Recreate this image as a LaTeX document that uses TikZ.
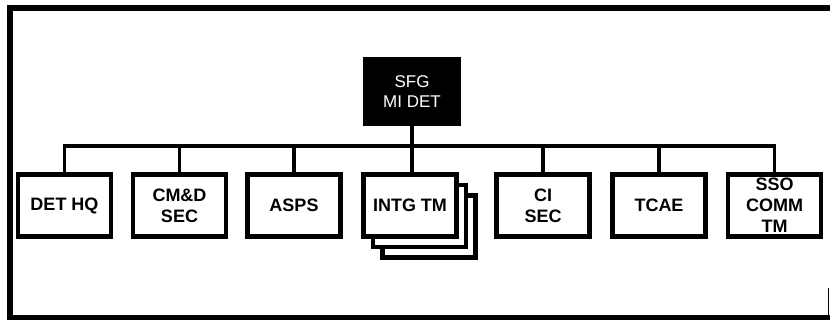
\documentclass[tikz,border=0pt]{standalone}
\usepackage{fontspec}
\setmainfont{Liberation Sans}
\usetikzlibrary{positioning, calc}

\begin{document}
\begin{tikzpicture}[x=1pt, y=-1pt,
    unit/.style={draw=black, line width=4.5pt, fill=white, inner sep=0pt,
                 minimum width=93pt, minimum height=62pt, align=center,
                 font=\fontsize{18}{21}\selectfont\bfseries},
    command/.style={fill=black, text=white, inner sep=0pt,
                    minimum width=98pt, minimum height=69pt, align=center,
                    font=\fontsize{17}{20}\selectfont},
    link/.style={line width=3.5pt}
]
    \useasboundingbox (0,0) rectangle (830,320);

    % Frame
    \draw[line width=6pt] (10,318) -- (10,8) -- (830,8);
    \draw[line width=5pt] (7,317.5) -- (830,317.5);
    \draw[line width=1pt] (828.5,288) -- (828.5,317);

    % Detachment
    \node[command] (sfg) at (412,91.5) {SFG\\MI DET};

    % Sections
    \node[unit] (dethq) at (64.5,205.5) {DET HQ};
    \node[unit] (cmdsec) at (179.5,205.5) {CM\&D\\SEC};
    \node[unit] (asps) at (294,205.5) {ASPS};
    \node[unit] (intg3) at (429,226.5) {};
    \node[unit] (intg2) at (419.5,216) {};
    \node[unit] (intg) at (410,205.5) {INTG TM};
    \node[unit] (cisec) at (543,205.5) {CI\\SEC};
    \node[unit] (tcae) at (659,205.5) {TCAE};
    \node[unit] (ssocomm) at (774.5,205.5) {SSO\\COMM\\TM};

    % Lines
    \coordinate (bus) at (0,146);
    \draw[link] (sfg.south) -- (sfg.south |- intg.north);
    \draw[link] (dethq.north) -- (dethq.north |- bus) -- (ssocomm.north |- bus) -- (ssocomm.north);
    \draw[link] (cmdsec.north) -- (cmdsec.north |- bus);
    \draw[link] (asps.north) -- (asps.north |- bus);
    \draw[link] (cisec.north) -- (cisec.north |- bus);
    \draw[link] (tcae.north) -- (tcae.north |- bus);
\end{tikzpicture}
\end{document}
